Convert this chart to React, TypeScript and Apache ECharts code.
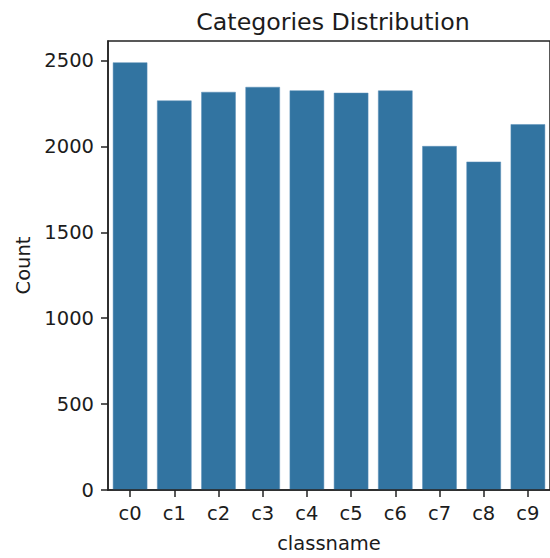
import React, { useEffect, useRef } from "react";
import * as echarts from "echarts";

const categories = ["c0", "c1", "c2", "c3", "c4", "c5", "c6", "c7", "c8", "c9"];
const counts = [2489, 2267, 2317, 2346, 2326, 2312, 2325, 2002, 1911, 2129];
const yTicks = [0, 500, 1000, 1500, 2000, 2500];
const title = "Categories Distribution";
const xName = "classname";
const yName = "Count";

const FONT = "DejaVu Sans";
const INK = "#1c1c1c";

export default function App() {
  const ref = useRef<HTMLDivElement>(null);
  useEffect(() => {
    if (!ref.current) return;
    const chart = echarts.init(ref.current, undefined, { renderer: "svg" });
    const yMax = Math.max(...counts) * 1.05;
    chart.setOption({
      animation: false,
      backgroundColor: "#ffffff",
      title: {
        text: title,
        left: 328,
        textAlign: "center",
        top: 5,
        textStyle: { fontFamily: FONT, fontSize: 23.7, fontWeight: "normal", color: INK },
      },
      grid: {
        left: 108,
        right: -2,
        top: 41,
        bottom: 65,
        show: true,
        borderColor: "#222",
        borderWidth: 1.5,
        backgroundColor: "transparent",
      },
      xAxis: {
        type: "category",
        data: categories,
        z: 5,
        name: xName,
        nameLocation: "middle",
        nameGap: 43,
        nameTextStyle: { fontFamily: FONT, fontSize: 19.5, color: INK },
        axisLine: { show: true, lineStyle: { color: "#222", width: 1.5 } },
        axisTick: { show: true, alignWithLabel: true, length: 7, lineStyle: { color: "#222", width: 1.5 } },
        axisLabel: { fontFamily: FONT, fontSize: 19.5, color: INK, margin: 13 },
        splitLine: { show: false },
      },
      yAxis: {
        type: "value",
        min: 0,
        max: yMax,
        z: 5,
        name: yName,
        nameLocation: "middle",
        nameGap: 66,
        nameRotate: 90,
        nameTextStyle: { fontFamily: FONT, fontSize: 19.5, color: INK },
        axisLine: { show: true, lineStyle: { color: "#222", width: 1.5 } },
        axisTick: { show: true, length: 7, customValues: yTicks, lineStyle: { color: "#222", width: 1.5 } },
        axisLabel: {
          fontFamily: FONT,
          fontSize: 19.5,
          color: INK,
          margin: 14,
          customValues: yTicks,
          formatter: (v: number) => String(v),
        },
        splitLine: { show: false },
      },
      series: [
        {
          type: "bar",
          data: counts,
          barWidth: "78%",
          itemStyle: { color: "#3274a1", borderColor: "#5a8fb8", borderWidth: 0.5 },
        },
      ],
    });
    return () => chart.dispose();
  }, []);
  return (
    <div
      ref={ref}
      style={{ position: "fixed", left: 0, top: 0, width: 550, height: 558, background: "#fff" }}
    />
  );
}
